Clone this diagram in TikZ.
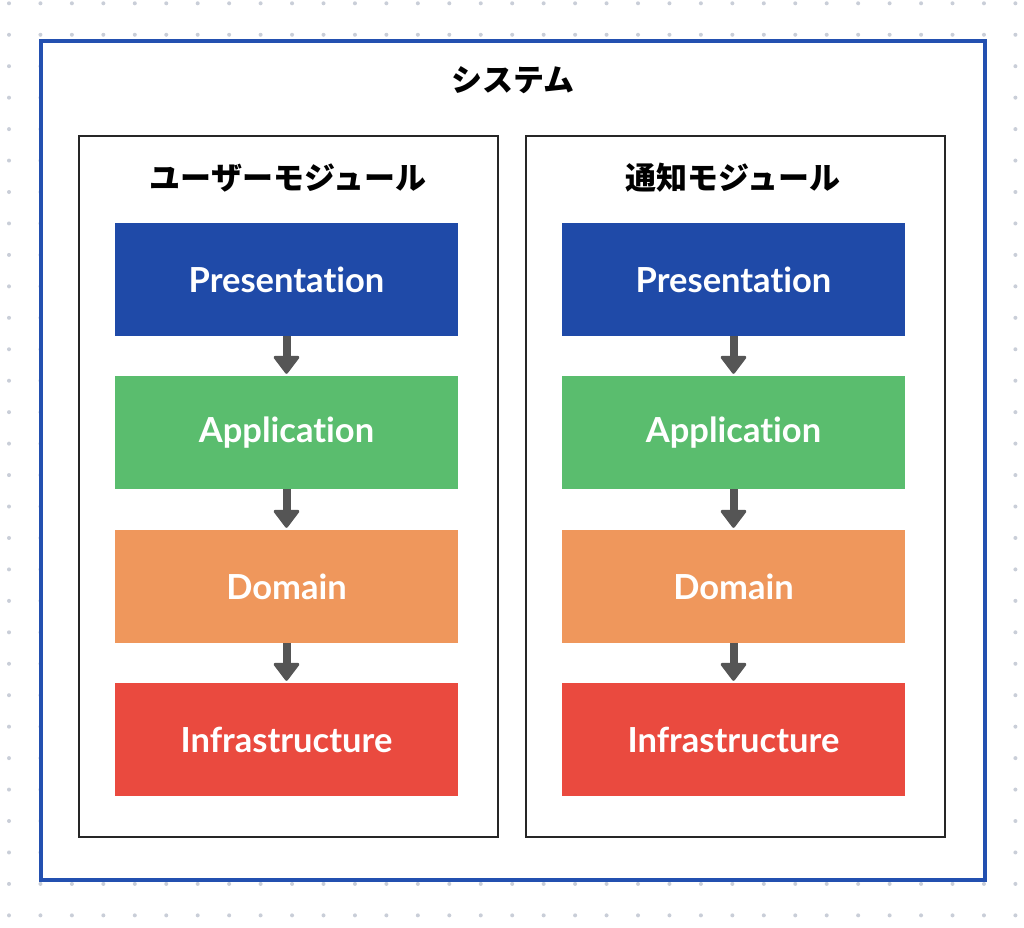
\documentclass[tikz,border=0pt]{standalone}
\usepackage{fontspec}
\usetikzlibrary{arrows.meta}
\newfontfamily\jpfont{Noto Sans CJK JP}
\newfontfamily\labfont{Lato}[Ligatures=NoCommon]
\definecolor{dotc}{HTML}{C9CED8}
\definecolor{framec}{HTML}{2350B0}
\definecolor{pblue}{HTML}{1F4AA8}
\definecolor{agreen}{HTML}{5ABD6E}
\definecolor{dorange}{HTML}{EF975C}
\definecolor{ired}{HTML}{EA4A3F}
\definecolor{arrowc}{HTML}{555555}
\tikzset{
  sysframe/.style={draw=framec, line width=4pt, fill=white, minimum width=944.5pt, minimum height=838.5pt, inner sep=0pt},
  modbox/.style={draw=black!85, line width=2pt, fill=white, minimum width=419pt, minimum height=701pt, inner sep=0pt},
  title/.style={font=\jpfont\bfseries\fontsize{31}{35}\selectfont, text=black, inner sep=0pt},
  layer/.style={minimum width=343pt, minimum height=113pt, inner sep=0pt, text=white, font=\labfont\bfseries\fontsize{34.5}{38}\selectfont},
  flow/.style={draw=arrowc, line width=8pt, -{Triangle[width=28pt,length=19pt,round,line width=3pt]}, shorten >=2pt}
}
\begin{document}
\begin{tikzpicture}[x=1pt,y=-1pt]
\useasboundingbox (0,0) rectangle (1024,927);
\fill[white] (0,0) rectangle (1024,927);
\foreach \i in {0,...,32}{
  \foreach \j in {0,...,29}{
    \fill[dotc] (9+\i*31.45, 3.3+\j*31.45) circle[radius=2pt];
  }
}
\node[sysframe] (sys) at (512.75,460.25) {};
\node[title] (systitle) at (513,80) {システム};
\node[modbox] (m1) at (288.5,486.5) {};
\node[modbox] (m2) at (735,486.5) {};
\node[title] (t1) at (288,178) {ユーザーモジュール};
\node[title] (t2) at (733,178) {通知モジュール};
\foreach \x/\n in {286.5/a,733.5/b}{
  \node[layer, fill=pblue] (p\n) at (\x,279.5) {Presentation};
  \node[layer, fill=agreen] (ap\n) at (\x,432.5) {Application};
  \node[layer, fill=dorange] (d\n) at (\x,586.5) {Domain};
  \node[layer, fill=ired] (i\n) at (\x,739.5) {Infrastructure};
  \draw[flow] (p\n.south) -- (ap\n.north);
  \draw[flow] (ap\n.south) -- (d\n.north);
  \draw[flow] (d\n.south) -- (i\n.north);
}
\end{tikzpicture}
\end{document}
